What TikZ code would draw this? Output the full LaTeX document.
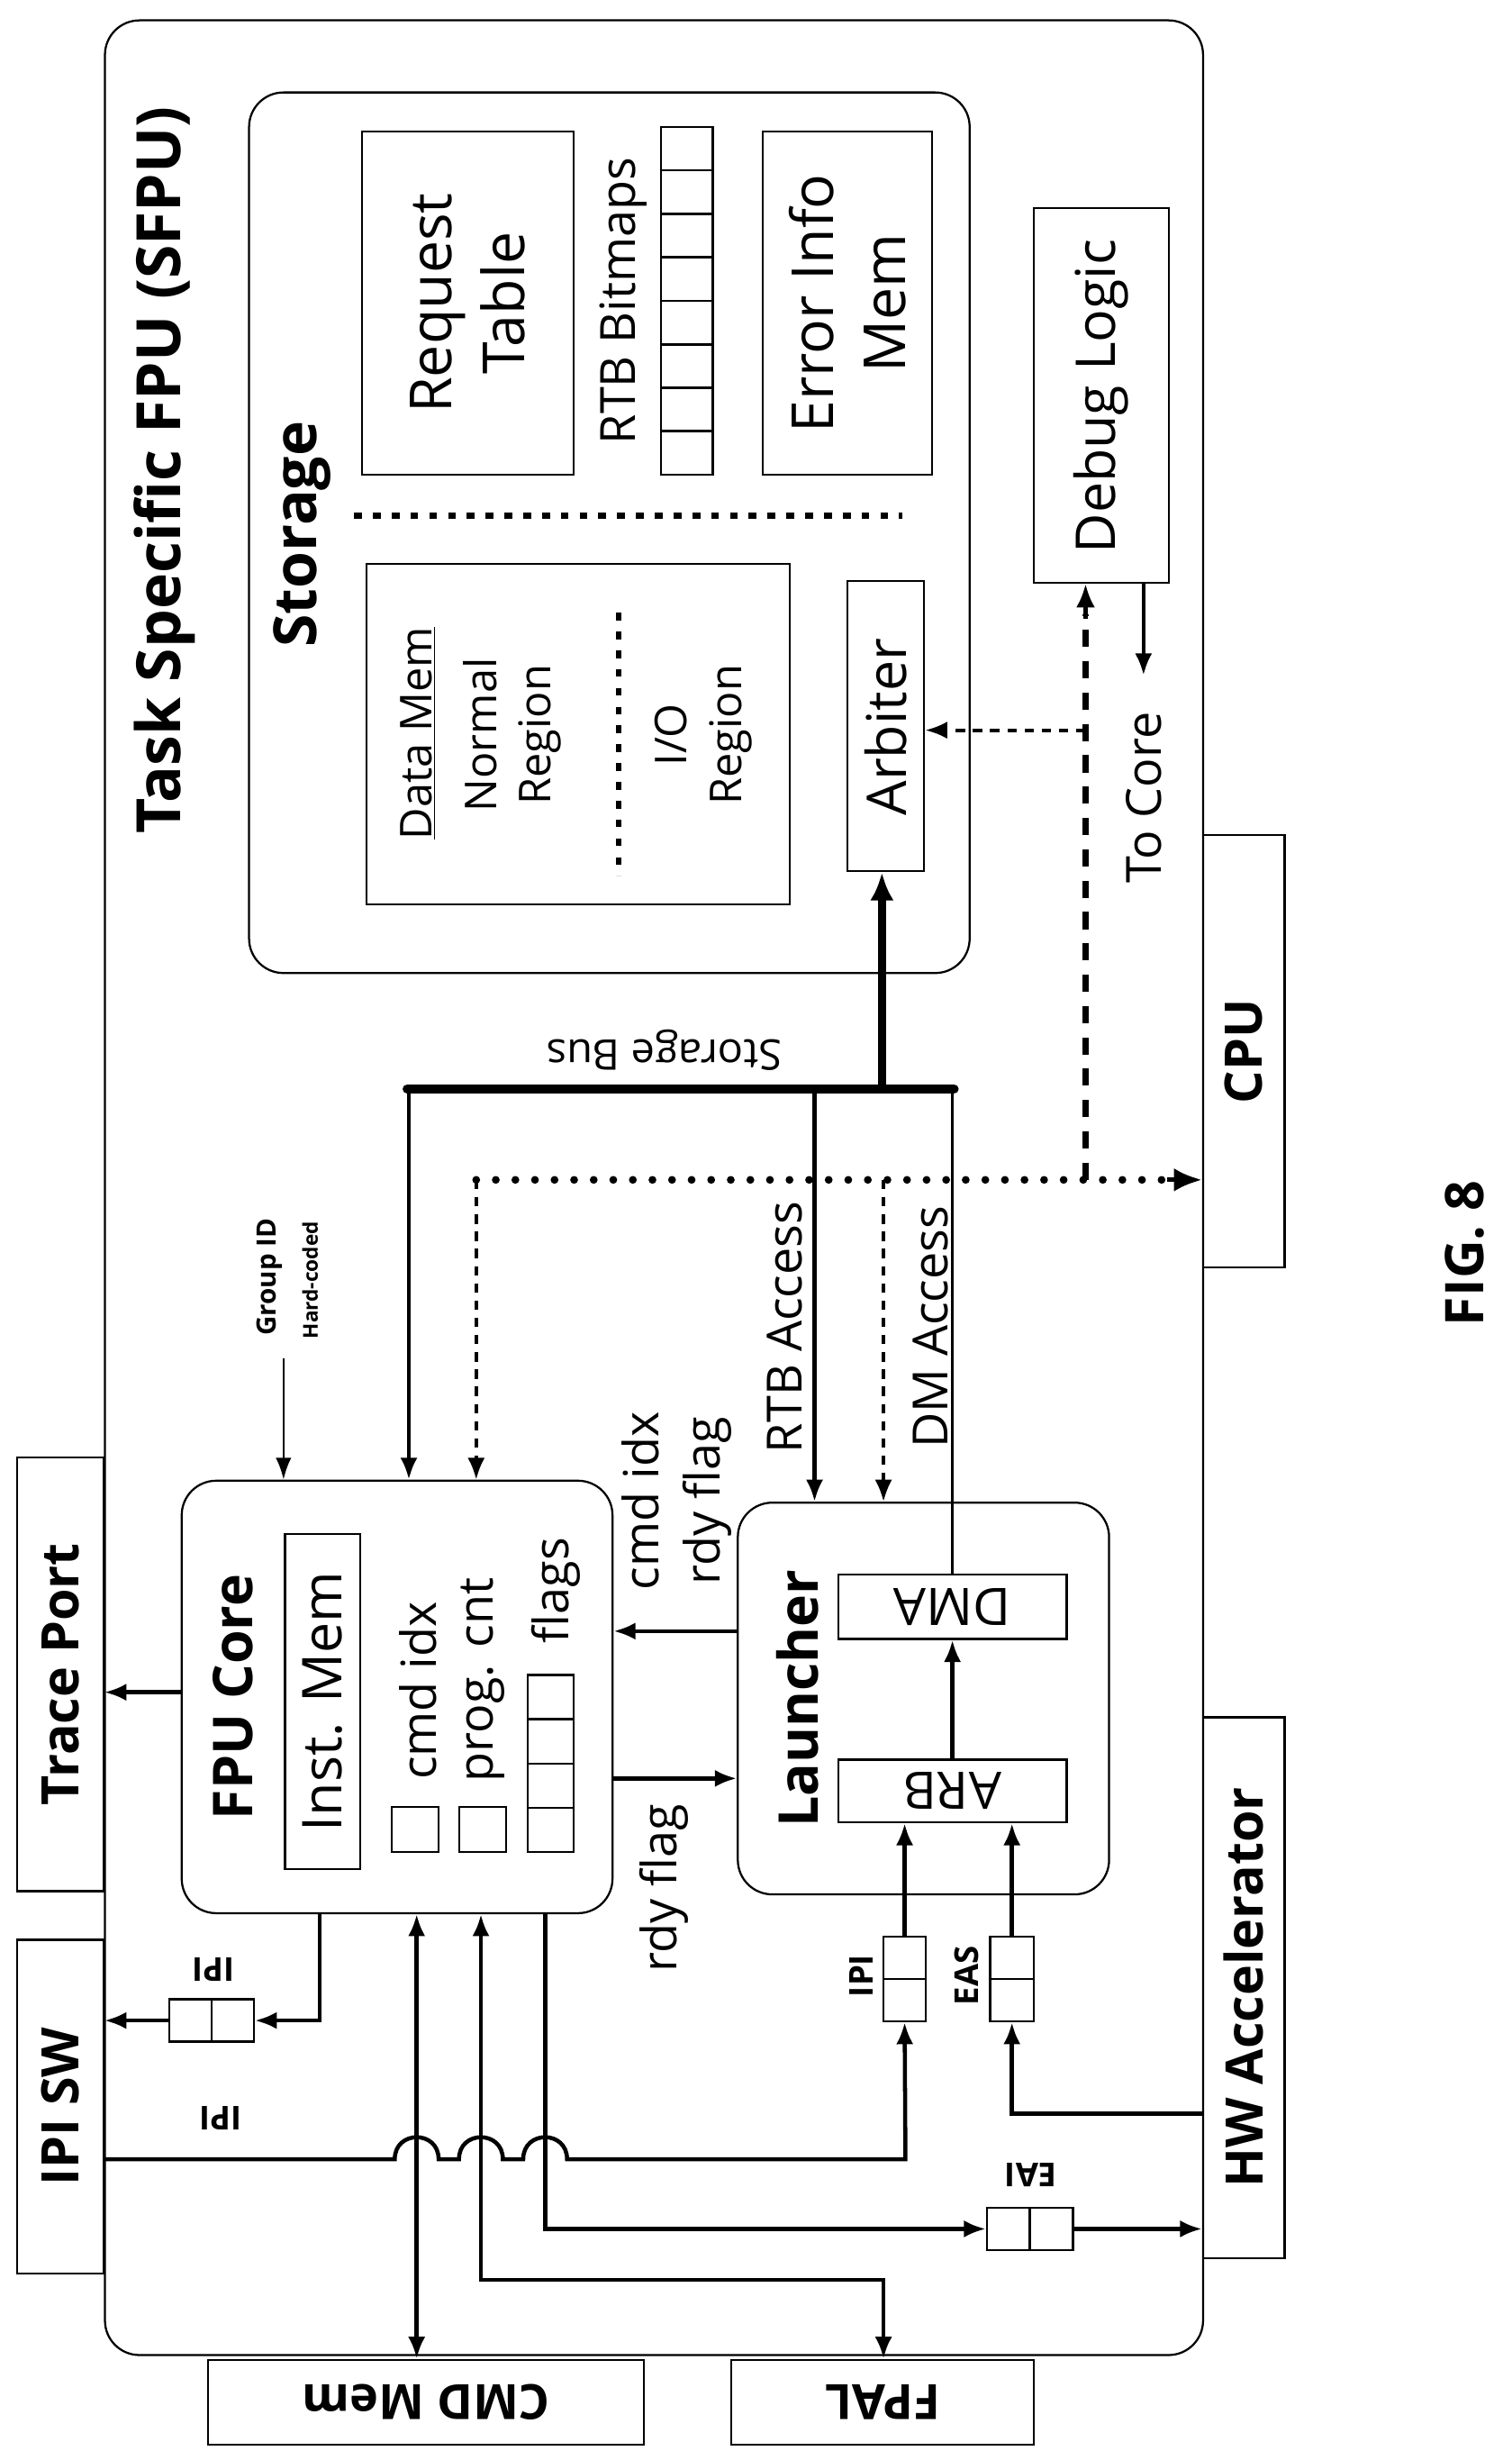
\documentclass[tikz,border=0pt]{standalone}
\usepackage{fontspec}
\setmainfont{Open Sans}
\usetikzlibrary{arrows.meta}
\begin{document}
\begin{tikzpicture}[x=1pt,y=-1pt,
  bx/.style={draw,line width=1.3pt,inner sep=0pt},
  rb/.style={bx,rounded corners=22pt},
  lbl/.style={inner sep=0pt,align=center},
  up/.style={lbl,rotate=90},
  dn/.style={lbl,rotate=180},
  fs/.style={font=\fontsize{#1}{\dimexpr#1pt*5/4\relax}\selectfont},
  bfs/.style={font=\fontsize{#1}{\dimexpr#1pt*5/4\relax}\selectfont\bfseries},
  ar/.style={line width=2.6pt,-{Latex[length=14pt,width=11pt]}},
  thin/.style={line width=1.5pt}]
\useasboundingbox (0,0) rectangle (965,1570);
% boxes
\node[rb,minimum width=701pt,minimum height=1490pt] (sfpu) at (417.5,758) {};
\node[rb,minimum width=460pt,minimum height=562pt] (stor) at (389,340) {};
\node[bx,minimum width=135pt,minimum height=219pt] (req) at (298.5,193.5) {};
\node[bx,minimum width=33pt,minimum height=222pt] (bmp) at (438.5,192) {};
\foreach \k in {1,...,7}{\draw[thin] (422,81+\k*27.75) -- (455,81+\k*27.75);}
\node[bx,minimum width=108pt,minimum height=219pt] (err) at (541,193.5) {};
\node[bx,minimum width=270pt,minimum height=217pt] (dmem) at (369,468.5) {};
\node[bx,minimum width=49pt,minimum height=185pt] (arb) at (565.5,463.5) {};
\node[bx,minimum width=86pt,minimum height=239pt] (dbg) at (703,252.5) {};
\node[bx,minimum width=52pt,minimum height=276pt] (cpu) at (794,671) {};
\node[bx,minimum width=55pt,minimum height=277pt] (trace) at (38.5,1068.5) {};
\node[bx,minimum width=55pt,minimum height=213pt] (ipisw) at (38.5,1344.5) {};
\node[bx,minimum width=52pt,minimum height=345pt] (hw) at (794,1268.5) {};
\node[bx,minimum width=278pt,minimum height=54pt] (cmdm) at (272,1533) {};
\node[bx,minimum width=193pt,minimum height=54pt] (fpal) at (563.5,1533) {};
\node[rb,minimum width=275pt,minimum height=276pt] (fpu) at (253.5,1083) {};
\node[bx,minimum width=48pt,minimum height=214pt] (imem) at (206,1086) {};
\node[bx,minimum width=30pt,minimum height=29pt] (sq1) at (265,1167.5) {};
\node[bx,minimum width=30pt,minimum height=29pt] (sq2) at (308,1167.5) {};
\node[bx,minimum width=29pt,minimum height=113pt] (flg) at (351.5,1125.5) {};
\foreach \k in {1,2,3}{\draw[thin] (337,1069+\k*28.25) -- (366,1069+\k*28.25);}
\node[rb,minimum width=237pt,minimum height=250pt] (lau) at (589.5,1084) {};
\node[bx,minimum width=146pt,minimum height=41pt] (dma) at (608,1025.5) {};
\node[bx,minimum width=146pt,minimum height=40pt] (arbl) at (608,1143) {};
\node[bx,minimum width=54pt,minimum height=27pt] (qidl) at (135,1289.5) {};
\draw[thin] (135,1276) -- (135,1303);
\node[bx,minimum width=27pt,minimum height=54pt] (qipi) at (577.5,1263) {};
\draw[thin] (564,1263) -- (591,1263);
\node[bx,minimum width=28pt,minimum height=54pt] (qeas) at (646,1263) {};
\draw[thin] (632,1263) -- (660,1263);
\node[bx,minimum width=55pt,minimum height=27pt] (qeai) at (657.5,1422.5) {};
\draw[thin] (657.5,1409) -- (657.5,1436);
% dotted separators
\draw[line width=4pt,dash pattern=on 5pt off 7pt] (226,329) -- (576,329);
\draw[line width=3.5pt,dash pattern=on 5pt off 7pt] (395,391) -- (395,559);
% labels
\node[up,bfs=39] (t1) at (105,300) {Task Specific FPU (SFPU)};
\node[up,bfs=38] (t2) at (193,341) {Storage};
\node[up,fs=37] (t3) at (298.5,193.5) {Request\\Table};
\node[up,fs=31] (t4) at (398,192) {RTB Bitmaps};
\node[up,fs=37] (t5) at (541,193.5) {Error Info\\Mem};
\node[up,fs=28] (t6) at (267,468) {\underline{Data Mem}};
\node[up,fs=28] (t7) at (327,469) {Normal\\Region};
\node[up,fs=28] (t8) at (449,469) {I/O\\Region};
\node[up,fs=35] (t9) at (565.5,464) {Arbiter};
\node[up,fs=35] (t10) at (703,253) {Debug Logic};
\node[up,fs=31] (t11) at (730,509) {To Core};
\node[dn,fs=27] (t12) at (424,670) {Storage Bus};
\node[up,fs=31] (t13) at (501,847) {RTB Access};
\node[up,fs=31] (t14) at (594,847) {DM Access};
\node[up,bfs=33] (t15) at (794,671) {CPU};
\node[up,bfs=17] (t16) at (172,815) {Group ID};
\node[up,bfs=13] (t17) at (198,817) {Hard-coded};
\node[up,bfs=35] (t18) at (149,1083) {FPU Core};
\node[up,fs=35] (t19) at (206,1086) {Inst. Mem};
\node[up,fs=31] (t20) at (267,1079) {cmd idx};
\node[up,fs=31] (t21) at (308,1072) {prog. cnt};
\node[up,fs=31] (t22) at (355,1015) {flags};
\node[up,fs=31] (t23) at (432,958) {cmd idx\\rdy flag};
\node[up,fs=31] (t24) at (424,1205) {rdy flag};
\node[up,bfs=35] (t25) at (509,1084) {Launcher};
\node[dn,fs=33] (t26) at (608,1025.5) {DMA};
\node[dn,fs=33] (t27) at (608,1143) {ARB};
\node[up,bfs=21] (t28) at (550,1261) {IPI};
\node[up,bfs=21] (t29) at (617,1261) {EAS};
\node[dn,bfs=21] (t30) at (136,1257) {IPI};
\node[dn,bfs=21] (t31) at (141,1352) {IPI};
\node[dn,bfs=21] (t32) at (658,1388) {EAI};
\node[up,bfs=33] (t33) at (38.5,1068.5) {Trace Port};
\node[up,bfs=33] (t34) at (38.5,1344.5) {IPI SW};
\node[up,bfs=33] (t35) at (794,1268.5) {HW Accelerator};
\node[dn,bfs=31] (t36) at (272,1533) {CMD Mem};
\node[dn,bfs=31] (t37) at (563.5,1533) {FPAL};
\node[up,bfs=34] (t38) at (935,800) {FIG. 8};
% coordinates
\coordinate (busL) at (260,695);
\coordinate (busR) at (609,695);
\coordinate (dotL) at (304,753);
\coordinate (dtv) at (693,753);
\coordinate (grp) at (181,867);
% storage bus
\draw[line width=6pt,line cap=round] (busL) -- (busR);
\draw[line width=5pt,-{Latex[length=18pt,width=15pt]}] (563,695) -- (arb.south -| 563,0);
\draw[ar] (261,695) -- (fpu.north -| 261,0);
\draw[ar] (520,695) -- (lau.north -| 520,0);
\draw[thin] (608,695) -- (dma.north -| 608,0);
\draw[line width=2pt,dash pattern=on 6pt off 5pt,-{Latex[length=14pt,width=11pt]}] (dotL) -- (fpu.north -| 304,0);
\draw[line width=2pt,dash pattern=on 6pt off 5pt,-{Latex[length=14pt,width=11pt]}] (564,753) -- (lau.north -| 564,0);
\draw[line width=5pt,line cap=round,dash pattern=on 0pt off 12.5pt] (dotL) -- (748,753);
\draw[line width=3pt,-{Latex[length=18pt,width=15pt]}] (745,753) -- (cpu.west |- 0,753);
\draw[line width=4pt,dash pattern=on 11pt off 9pt] (dtv) -- (693,392);
\draw[line width=2.5pt,-{Latex[length=15pt,width=12pt]}] (693,395) -- (dbg.south -| 693,0);
\draw[line width=2.2pt,dash pattern=on 6pt off 5pt,-{Latex[length=14pt,width=11pt]}] (693,466) -- (arb.east |- 0,466);
\draw[ar] (dbg.south -| 730,0) -- (730,431);
% FPU area
\draw[thin,-{Latex[length=14pt,width=10pt]}] (grp) -- (fpu.north -| 181,0);
\draw[ar] (fpu.west |- 0,1080) -- (trace.east |- 0,1080);
\draw[ar] (lau.west |- 0,1041) -- (fpu.east |- 0,1041);
\draw[ar] (fpu.east |- 0,1135) -- (lau.west |- 0,1135);
\draw[ar] (arbl.north) -- (dma.south);
\draw[ar] (fpu.south -| 204,0) |- (qidl.east);
\draw[ar] (qidl.west) -- (ipisw.east |- qidl.west);
\draw[ar] (ipisw.east |- 0,1378) -- (252,1378) .. controls (252,1359.3) and (280,1359.3) .. (280,1378) -- (293,1378) .. controls (293,1359.3) and (321,1359.3) .. (321,1378) -- (334,1378) .. controls (334,1359.3) and (362,1359.3) .. (362,1378) -- (578,1378) -- (qipi.south);
\draw[ar] (hw.west |- 0,1349) -| (qeas.south);
\draw[ar] (qipi.north) -- (arbl.south -| qipi.north);
\draw[ar] (qeas.north) -- (arbl.south -| qeas.north);
\draw[ar,{Latex[length=14pt,width=11pt]}-{Latex[length=14pt,width=11pt]}] (fpu.south -| 266,0) -- (cmdm.north -| 266,0);
\draw[ar,{Latex[length=14pt,width=11pt]}-{Latex[length=14pt,width=11pt]}] (fpu.south -| 307,0) -- (307,1455) -- (564,1455) -- (fpal.north -| 564,0);
\draw[ar] (fpu.south -| 348,0) |- (qeai.west);
\draw[ar] (qeai.east) -- (hw.west |- qeai.east);
\end{tikzpicture}
\end{document}
